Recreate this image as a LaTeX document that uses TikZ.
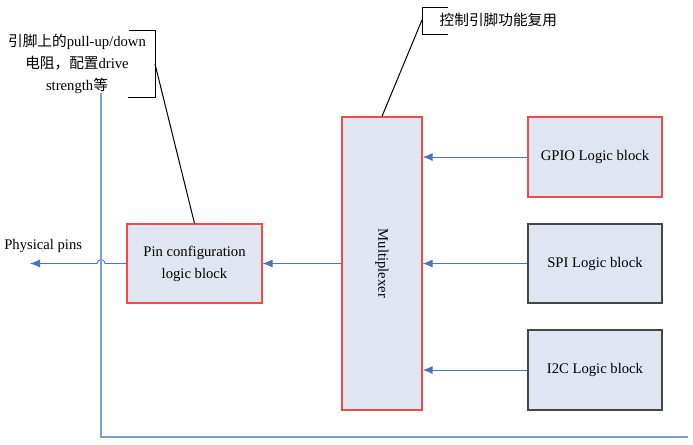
\documentclass[tikz,border=0pt]{standalone}
\usepackage{fontspec}
\setmainfont{Liberation Serif}
\newfontfamily\cjk{Noto Sans CJK SC}
\usetikzlibrary{arrows.meta}
\definecolor{blockfill}{RGB}{224,229,242}
\definecolor{redline}{RGB}{238,75,75}
\definecolor{grayline}{RGB}{70,70,70}
\definecolor{wirecol}{RGB}{70,118,192}
\definecolor{backcol}{RGB}{120,160,215}

\begin{document}
\begin{tikzpicture}[x=0.75pt, y=-0.75pt,
            font=\fontsize{11}{16.5}\selectfont,
            block/.style={draw=redline, line width=1pt, fill=blockfill, align=center, inner sep=0pt},
            gray block/.style={block, draw=grayline},
            wire/.style={draw=wirecol, line width=0.65pt},
            feed/.style={wire, -{Latex[length=7.5pt,width=6pt]}},
            note/.style={draw=black, line width=0.75pt}]

    \useasboundingbox (0,0) rectangle (693,444);

    \node[block, minimum width=101.25pt, minimum height=59.25pt] (pin) at (194.5,263.5) {Pin configuration\\logic block};
    \node[block, minimum width=60pt, minimum height=219.75pt] (mux) at (382,263.5) {};
    \node[rotate=-90] (muxtext) at (mux.center) {Multiplexer};

    \node[block, minimum width=100.5pt, minimum height=60pt] (gpio) at (595,157) {GPIO Logic block};
    \node[gray block, minimum width=100.5pt, minimum height=59.25pt] (spi) at (595,263.5) {SPI Logic block};
    \node[gray block, minimum width=100.5pt, minimum height=60pt] (i2c) at (595,370) {I2C Logic block};

    \draw[feed] (gpio.west) -- (gpio.west -| mux.east);
    \draw[feed] (spi.west) -- (spi.west -| mux.east);
    \draw[feed] (i2c.west) -- (i2c.west -| mux.east);
    \draw[feed] (mux.west |- pin.east) -- (pin.east);

    % physical pins, hopping over the feedback wire
    \coordinate (pins) at (30,263.5);
    \node[anchor=base west, inner sep=0pt] (pinslabel) at (4,249) {Physical pins};
    \draw[feed] (pin.west) -- (105,263.5) arc (0:-180:4) -- (pins);

    % note on the pin configuration block
    \node[align=center] (pullnote) at (77,64) {{\cjk 引脚上的}pull-up/down\\{\cjk 电阻，配置}drive\\strength{\cjk 等}};
    \draw[note] (129,30) -- (155,30) -- (155,97) -- (128,97);
    \coordinate (pullmid) at (155,64);
    \draw[note] (pullmid) -- (pin.north);

    \coordinate (wiretop) at (101,93);
    \coordinate (wireend) at (688,437);
    \draw[wire, draw=backcol, line width=0.9pt] (wiretop) |- (wireend);

    % note on the multiplexer
    \node[anchor=west] (muxnote) at (435,20) {\cjk 控制引脚功能复用};
    \draw[note] (448,7) -- (422,7) -- (422,34) -- (448,34);
    \coordinate (muxmid) at (422,20);
    \draw[note] (muxmid) -- (mux.north);
\end{tikzpicture}
\end{document}
